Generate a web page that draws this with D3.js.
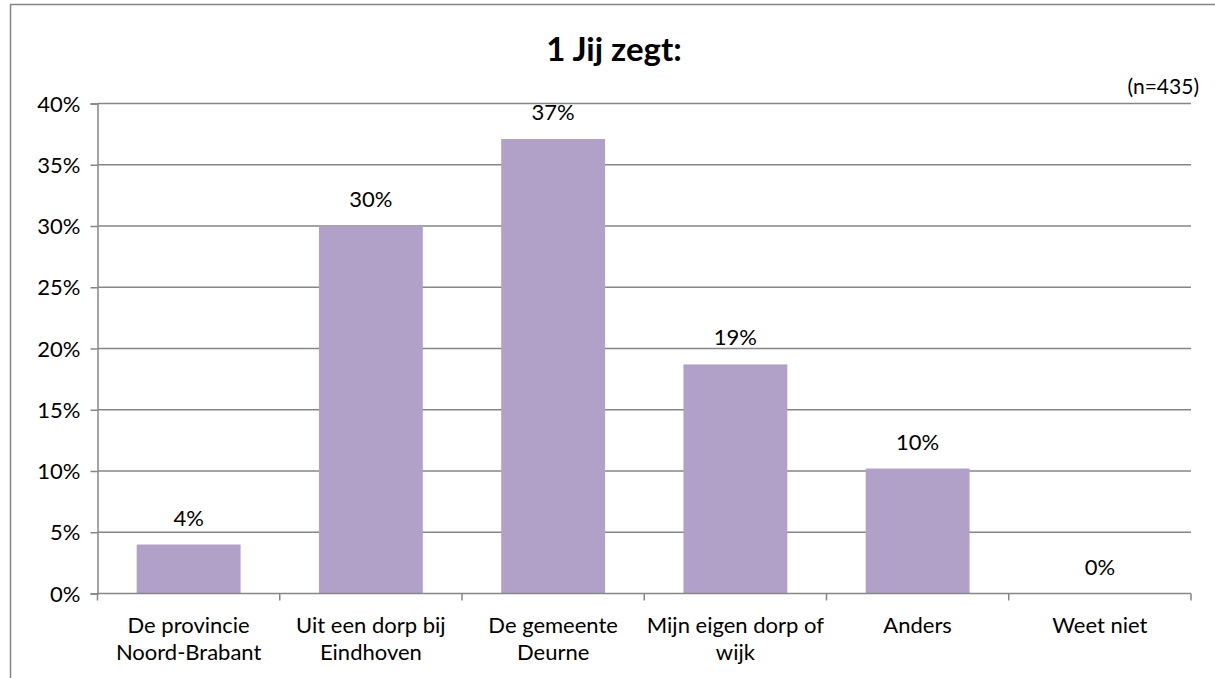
<!DOCTYPE html>
<html>
<head>
<meta charset="utf-8">
<script src="https://cdn.jsdelivr.net/npm/d3@7"></script>
<style>
  body { margin: 0; background: #fff; }
  svg text { font-family: Lato, 'Open Sans', sans-serif; fill: #000; }
</style>
</head>
<body>
<div id="chart"></div>
<script>
// data
const categories = [
  ['De provincie', 'Noord-Brabant'],
  ['Uit een dorp bij', 'Eindhoven'],
  ['De gemeente', 'Deurne'],
  ['Mijn eigen dorp of', 'wijk'],
  ['Anders'],
  ['Weet niet']
];
const values = [4.0, 30.0, 37.1, 18.7, 10.2, 0];
const yTicks = [0, 5, 10, 15, 20, 25, 30, 35, 40];
const title = '1 Jij zegt:';
const note = '(n=435)';

const W = 1215, H = 678;
const margin = { top: 103.5, right: 24, bottom: 84.5, left: 97.5 };
const width = W - margin.left - margin.right;
const height = H - margin.top - margin.bottom;

const svg = d3.select('#chart')
  .append('svg')
  .attr('width', W)
  .attr('height', H);

// outer frame (only top and left edges visible)
svg.append('path')
  .attr('d', `M10.5,${H} V4.5 H${W}`)
  .attr('fill', 'none')
  .attr('stroke', '#868686')
  .attr('stroke-width', 1.5);

svg.append('text')
  .attr('x', 614)
  .attr('y', 61)
  .attr('text-anchor', 'middle')
  .style('font-size', '33px')
  .style('font-weight', 'bold')
  .text(title);

svg.append('text')
  .attr('x', 1199)
  .attr('y', 94)
  .attr('text-anchor', 'end')
  .style('font-size', '21px')
  .text(note);

const g = svg.append('g')
  .attr('transform', `translate(${margin.left},${margin.top})`);

const x = d3.scaleBand()
  .domain(d3.range(categories.length))
  .range([0, width])
  .paddingInner(0.43)
  .paddingOuter(0.215);

const y = d3.scaleLinear()
  .domain([0, 40])
  .range([height, 0]);

// gridlines
g.append('g')
  .selectAll('line')
  .data(yTicks.filter(d => d > 0))
  .join('line')
  .attr('x1', 0)
  .attr('x2', width)
  .attr('y1', d => y(d))
  .attr('y2', d => y(d))
  .attr('stroke', '#868686')
  .attr('stroke-width', 1.5);

// bars
g.selectAll('.bar')
  .data(values)
  .join('rect')
  .attr('class', 'bar')
  .attr('x', (d, i) => x(i))
  .attr('y', d => y(d))
  .attr('width', x.bandwidth())
  .attr('height', d => height - y(d))
  .attr('fill', '#b1a1c8');

// value labels
g.selectAll('.val')
  .data(values)
  .join('text')
  .attr('class', 'val')
  .attr('x', (d, i) => x(i) + x.bandwidth() / 2)
  .attr('y', d => y(d) - 19)
  .attr('text-anchor', 'middle')
  .style('font-size', '22px')
  .text(d => Math.round(d) + '%');

// y axis
const yAxis = g.append('g')
  .call(d3.axisLeft(y).tickValues(yTicks).tickSize(7).tickPadding(10).tickFormat(d => d + '%'));
yAxis.select('.domain').attr('stroke', '#868686').attr('stroke-width', 1.5);
yAxis.selectAll('.tick line').attr('stroke', '#868686').attr('stroke-width', 1.5);
yAxis.selectAll('.tick text')
  .style('font-size', '22px')
  .attr('dy', '0.35em');

// x axis with ticks at the band boundaries
const xAxis = g.append('g').attr('transform', `translate(0,${height})`);
xAxis.append('line')
  .attr('x1', 0).attr('x2', width)
  .attr('stroke', '#868686').attr('stroke-width', 1.5);
xAxis.selectAll('.xt')
  .data(d3.range(categories.length + 1))
  .join('line')
  .attr('class', 'xt')
  .attr('x1', i => i * width / categories.length)
  .attr('x2', i => i * width / categories.length)
  .attr('y1', 0).attr('y2', 7)
  .attr('stroke', '#868686').attr('stroke-width', 1.5);

xAxis.selectAll('.cat')
  .data(categories)
  .join('text')
  .attr('class', 'cat')
  .attr('x', (d, i) => x(i) + x.bandwidth() / 2)
  .attr('y', 39)
  .attr('text-anchor', 'middle')
  .style('font-size', '22px')
  .selectAll('tspan')
  .data(d => d)
  .join('tspan')
  .attr('x', function () { return d3.select(this.parentNode).attr('x'); })
  .attr('dy', (d, i) => i === 0 ? 0 : 27.5)
  .text(d => d);
</script>
</body>
</html>
